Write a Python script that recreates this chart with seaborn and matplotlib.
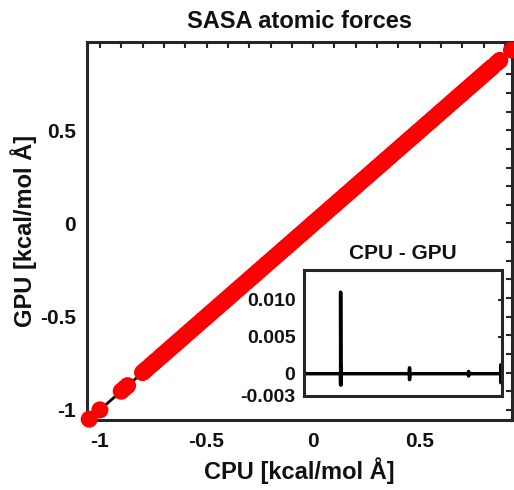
import matplotlib
matplotlib.use("Agg")
import matplotlib.pyplot as plt
import seaborn as sns
import pandas as pd
from matplotlib.ticker import MultipleLocator

# atomic forces (kcal/mol A)
cpu_forces = [-1.05, -1.00, -0.90, -0.885, -0.87, -0.80, -0.79, -0.78, -0.765, -0.755,
              -0.745, -0.735, -0.72, -0.71, -0.70, -0.69, -0.68, -0.67, -0.66, -0.65,
              -0.64, -0.63, -0.62, -0.61, -0.60, -0.59, -0.58, -0.57, -0.56, -0.55,
              -0.54, -0.53, -0.52, -0.51, -0.50, -0.49, -0.48, -0.47, -0.46, -0.45,
              -0.44, -0.43, -0.42, -0.41, -0.40, -0.39, -0.38, -0.37, -0.36, -0.35,
              -0.34, -0.33, -0.32, -0.31, -0.30, -0.29, -0.28, -0.27, -0.26, -0.25,
              -0.24, -0.23, -0.22, -0.21, -0.20, -0.19, -0.18, -0.17, -0.16, -0.15,
              -0.14, -0.13, -0.12, -0.11, -0.10, -0.09, -0.08, -0.07, -0.06, -0.05,
              -0.04, -0.03, -0.02, -0.01, 0.00, 0.01, 0.02, 0.03, 0.04, 0.05,
              0.06, 0.07, 0.08, 0.09, 0.10, 0.11, 0.12, 0.13, 0.14, 0.15,
              0.16, 0.17, 0.18, 0.19, 0.20, 0.21, 0.22, 0.23, 0.24, 0.25,
              0.26, 0.27, 0.28, 0.29, 0.30, 0.31, 0.32, 0.33, 0.34, 0.35,
              0.36, 0.37, 0.38, 0.39, 0.40, 0.41, 0.42, 0.43, 0.44, 0.45,
              0.46, 0.47, 0.48, 0.49, 0.50, 0.51, 0.52, 0.53, 0.54, 0.55,
              0.56, 0.57, 0.58, 0.59, 0.60, 0.61, 0.62, 0.63, 0.64, 0.65,
              0.66, 0.67, 0.68, 0.69, 0.70, 0.71, 0.72, 0.73, 0.74, 0.75,
              0.76, 0.77, 0.78, 0.79, 0.80, 0.81, 0.82, 0.83, 0.84, 0.86,
              0.875, 0.93]
# GPU agrees with CPU far below the resolution of the main panel
gpu_forces = list(cpu_forces)

# CPU - GPU difference per atom (inset)
diff_atoms = [1, 186, 187, 187, 188, 188, 189, 189, 190, 534, 535, 535, 536, 832, 833, 833, 834,
              995, 996, 996, 997, 998, 999, 999, 1000]
diff_values = [0.0, 0.0, -0.0015, 0.011, -0.0012, 0.0010, -0.0015, 0.0008, 0.0, 0.0, 0.0008, -0.0008, 0.0,
               0.0, 0.0003, -0.0003, 0.0, 0.0, 0.0012, -0.0012, 0.0, 0.0010, -0.0012, 0.0, 0.0]

main_ticks = [-1, -0.5, 0, 0.5]
main_labels = ["-1", "-0.5", "0", "0.5"]
inset_yticks = [-0.003, 0, 0.005, 0.010]
inset_ylabels = ["-0.003", "0", "0.005", "0.010"]

sns.set_style("white")
plt.rcParams['font.family'] = ['Liberation Sans', 'DejaVu Sans']
plt.rcParams['font.weight'] = 'bold'
plt.rcParams['text.color'] = '#111111'
plt.rcParams['xtick.labelcolor'] = '#111111'
plt.rcParams['ytick.labelcolor'] = '#111111'
plt.rcParams['axes.labelcolor'] = '#111111'

df = pd.DataFrame({"cpu": cpu_forces, "gpu": gpu_forces})
df_diff = pd.DataFrame({"atom": diff_atoms, "diff": diff_values})

fig = plt.figure(figsize=(5.14, 4.90), dpi=100)
ax = fig.add_axes([0.169, 0.143, 0.827, 0.771])

sns.lineplot(data=df, x="cpu", y="gpu", color="black", lw=2, sort=True, ax=ax, zorder=2)
sns.scatterplot(data=df, x="cpu", y="gpu", color="#ff0000", s=150, edgecolor="none",
                ax=ax, zorder=3, clip_on=False)

ax.set_xlim(-1.061, 0.932)
ax.set_ylim(-1.054, 0.973)
ax.set_xticks(main_ticks)
ax.set_xticklabels(main_labels)
ax.set_yticks(main_ticks)
ax.set_yticklabels(main_labels)
ax.xaxis.set_minor_locator(MultipleLocator(0.1))
ax.yaxis.set_minor_locator(MultipleLocator(0.1))
ax.tick_params(which="both", direction="in", top=True, right=True, length=4, width=1.5,
               color="#262626", labelsize=15)
ax.tick_params(axis="x", pad=9)
ax.tick_params(axis="y", pad=8)
for lab in ax.get_xticklabels() + ax.get_yticklabels():
    lab.set_fontweight("bold")
for sp in ax.spines.values():
    sp.set_linewidth(2.2)
    sp.set_color("#262626")
ax.set_xlabel("CPU [kcal/mol Å]", fontsize=17, fontweight="bold", labelpad=4)
ax.set_ylabel("GPU [kcal/mol Å]", fontsize=17, fontweight="bold", labelpad=2)
ax.set_title("SASA atomic forces", fontsize=17, fontweight="bold", pad=10)

# inset with the differences
axi = fig.add_axes([0.591, 0.192, 0.385, 0.257])
axi.set_facecolor("white")
sns.lineplot(data=df_diff, x="atom", y="diff", color="black", lw=2.5, sort=False,
             estimator=None, ax=axi)
axi.set_xlim(1, 1000)
axi.set_ylim(-0.003, 0.014)
axi.set_xticks([])
axi.set_yticks(inset_yticks)
axi.set_yticklabels(inset_ylabels)
axi.tick_params(direction="in", right=True, length=3, width=1.5, color="#262626",
                labelsize=14, pad=6)
for lab in axi.get_yticklabels():
    lab.set_fontweight("bold")
for sp in axi.spines.values():
    sp.set_linewidth(2.2)
    sp.set_color("#262626")
axi.set_xlabel("")
axi.set_ylabel("")
axi.set_title("CPU - GPU", fontsize=15, fontweight="bold", pad=8)

fig.savefig("out.png", dpi=100)
